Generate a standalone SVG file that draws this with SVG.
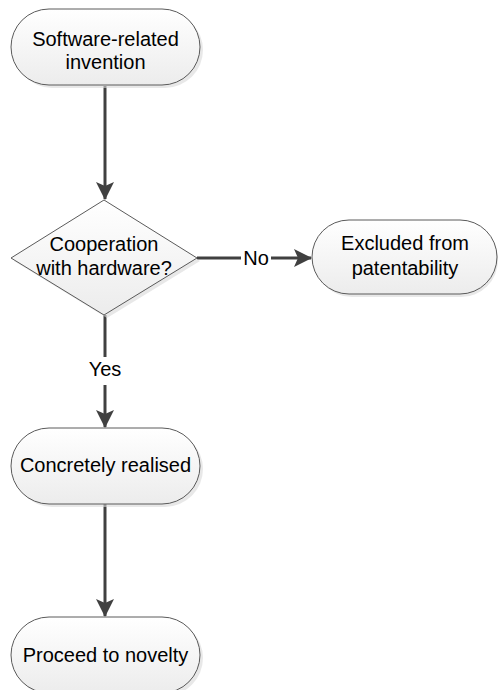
<svg xmlns="http://www.w3.org/2000/svg" width="500" height="690" viewBox="0 0 500 690">
<style>
.shape{fill:url(#g);stroke:#5a5a5a;stroke-width:1}
.shadow{fill:#d9d9d9;opacity:0.6}
.t{font-family:"Liberation Sans",Arial,sans-serif;font-size:20px;fill:#000;text-anchor:middle}
.c{stroke:#404040;stroke-width:3;fill:none}
</style>
<defs>
<linearGradient id="g" x1="0" y1="0" x2="0" y2="1">
<stop offset="0" stop-color="#ffffff"/>
<stop offset="1" stop-color="#ececec"/>
</linearGradient>
<marker id="a" markerWidth="6" markerHeight="6" viewBox="0 0 18 18" refX="17" refY="9" orient="auto" markerUnits="strokeWidth">
<path d="M0,0 L18,9 L0,18 L4,9 Z" fill="#404040"/>
</marker>
</defs>
<rect width="500" height="690" fill="#fff"/>
<g id="connectors">
<line class="c" x1="105" y1="86" x2="105" y2="199" marker-end="url(#a)"/>
<line class="c" x1="197" y1="258" x2="241" y2="258"/>
<line class="c" x1="271" y1="258" x2="311" y2="258" marker-end="url(#a)"/>
<text class="t" x="256" y="265">No</text>
<line class="c" x1="105" y1="315" x2="105" y2="357"/>
<line class="c" x1="105" y1="385" x2="105" y2="427" marker-end="url(#a)"/>
<text class="t" x="105" y="376">Yes</text>
<line class="c" x1="105" y1="504" x2="105" y2="616" marker-end="url(#a)"/>
</g>
<g id="n1">
<rect class="shadow" x="14" y="12" width="189" height="76" rx="38"/>
<rect class="shape" x="11" y="9" width="189" height="76" rx="38"/>
<text class="t" x="105.5" y="46">Software-related</text>
<text class="t" x="105.5" y="69">invention</text>
</g>
<g id="n2">
<polygon class="shadow" points="107,203 200,261 107,318 14,261"/>
<polygon class="shape" points="104,200 197,258 104,315 11,258"/>
<text class="t" x="104" y="251">Cooperation</text>
<text class="t" x="104" y="275">with hardware?</text>
</g>
<g id="n3">
<rect class="shadow" x="315" y="223" width="183" height="74" rx="37"/>
<rect class="shape" x="312" y="220" width="185" height="74" rx="37"/>
<text class="t" x="405" y="250">Excluded from</text>
<text class="t" x="405" y="275">patentability</text>
</g>
<g id="n4">
<rect class="shadow" x="14" y="431" width="189" height="76" rx="38"/>
<rect class="shape" x="11" y="428" width="189" height="76" rx="38"/>
<text class="t" x="105.5" y="472">Concretely realised</text>
</g>
<g id="n5">
<rect class="shadow" x="14" y="620" width="189" height="76" rx="38"/>
<rect class="shape" x="11" y="617" width="189" height="76" rx="38"/>
<text class="t" x="105.5" y="662">Proceed to novelty</text>
</g>
</svg>
